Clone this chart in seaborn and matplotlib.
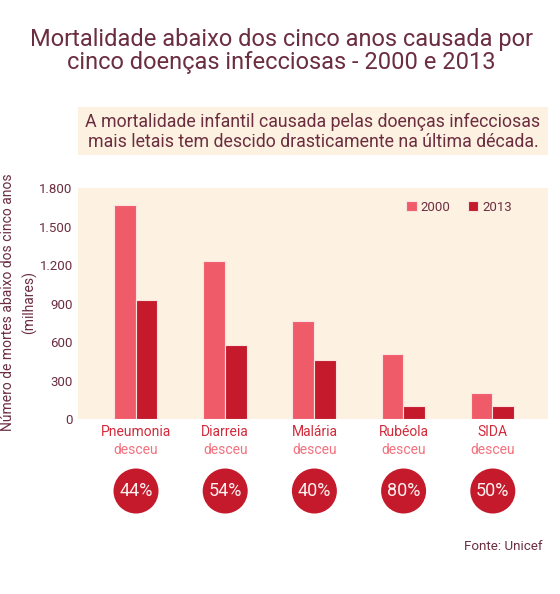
import numpy as np
import pandas as pd
import matplotlib
matplotlib.use("Agg")
import matplotlib.pyplot as plt
from matplotlib.patches import Circle, Rectangle
import seaborn as sns

# Data (thousands of deaths, under 5)
diseases = ["Pneumonia", "Diarreia", "Malária", "Rubéola", "SIDA"]
deaths_2000 = [1670, 1230, 765, 505, 205]
deaths_2013 = [925, 580, 460, 105, 105]
drop_labels = ["44%", "54%", "40%", "80%", "50%"]
years = ["2000", "2013"]

# Colours
light_red = "#F05B69"
dark_red = "#C41A2C"
panel_bg = "#FDF2E1"
maroon = "#6B2D40"
label_red = "#D22A3B"
soft_red = "#F2717D"

sns.set_theme(style="white")
plt.rcParams["font.family"] = ["Roboto", "DejaVu Sans"]

df = pd.DataFrame({
    "disease": diseases * 2,
    "year": [years[0]] * len(diseases) + [years[1]] * len(diseases),
    "deaths": deaths_2000 + deaths_2013,
})

W, H = 560, 594
fig = plt.figure(figsize=(W / 100, H / 100), dpi=100)
fig.patch.set_facecolor("white")

# main bar axes (pixel geometry taken from reference)
ax_left, ax_right, ax_top, ax_bottom = 78.3, 548.3, 188.3, 419
ax = fig.add_axes([ax_left / W, 1 - ax_bottom / H, (ax_right - ax_left) / W, (ax_bottom - ax_top) / H])
ax.set_facecolor(panel_bg)

sns.barplot(data=df, x="disease", y="deaths", hue="year", ax=ax,
            palette=[light_red, dark_red], width=0.487, gap=0,
            edgecolor="#FBE3DF", linewidth=0.8, saturation=1)

ax.set_xlim(-0.643, 4.626)
ax.set_ylim(0, 1800)
ax.set_yticks([0, 300, 600, 900, 1200, 1500, 1800])
ax.set_yticklabels(["0", "300", "600", "900", "1.200", "1.500", "1.800"])
ax.tick_params(axis="y", labelsize=9.5, labelcolor=maroon, length=0, pad=4)
ax.set_xticks([])
ax.set_xlabel("")
ax.set_ylabel("")
for s in ax.spines.values():
    s.set_visible(False)

leg = ax.legend(loc="center left", bbox_to_anchor=((406 - ax_left) / (ax_right - ax_left),
                                                    (ax_bottom - 207.3) / (ax_bottom - ax_top)),
                ncol=2, frameon=False, fontsize=9.5, handlelength=0.83, handleheight=0.83,
                handletextpad=0.28, columnspacing=1.29, borderaxespad=0, borderpad=0)
for t in leg.get_texts():
    t.set_color(maroon)

# overlay axes in pixel coords for titles, labels and circles
ov = fig.add_axes([0, 0, 1, 1], zorder=5)
ov.set_xlim(0, W)
ov.set_ylim(H, 0)
ov.axis("off")
ov.patch.set_alpha(0)

ov.text(281, 51, "Mortalidade abaixo dos cinco anos causada por\ncinco doenças infecciosas - 2000 e 2013",
        ha="center", va="center", fontsize=17, color=maroon, linespacing=1.0)

ov.add_patch(Rectangle((78.3, 106.7), 470, 48.3, facecolor=panel_bg, edgecolor="none"))
ov.text(313, 132, "A mortalidade infantil causada pelas doenças infecciosas\nmais letais tem descido drasticamente na última década.",
        ha="center", va="center", fontsize=12.8, color=maroon, linespacing=1.1)

ov.text(19, 302, "Número de mortes abaixo dos cinco anos\n(milhares)", rotation=90,
        ha="center", va="center", fontsize=10, color=maroon, linespacing=1.6)

for i, (name, pct) in enumerate(zip(diseases, drop_labels)):
    cx = 136 + 89.2 * i
    ov.text(cx, 432, name, ha="center", va="center", fontsize=10, color=label_red)
    ov.text(cx, 450, "desceu", ha="center", va="center", fontsize=10, color=soft_red)
    ov.add_patch(Circle((cx, 491), 22.5, facecolor=dark_red, edgecolor="none"))
    ov.text(cx, 491, pct, ha="center", va="center", fontsize=13, color="#FDF0EE")

ov.text(543, 547, "Fonte: Unicef", ha="right", va="center", fontsize=9.6, color=maroon)

fig.savefig("out.png", dpi=100, facecolor="white")
